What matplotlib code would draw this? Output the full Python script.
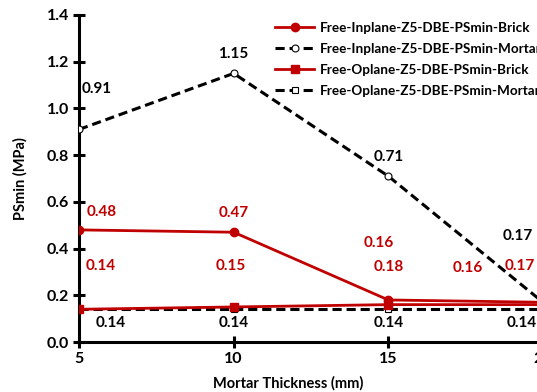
import matplotlib
matplotlib.use("Agg")
import matplotlib.pyplot as plt
from matplotlib.lines import Line2D

plt.rcParams['font.family'] = ['Lato', 'DejaVu Sans']
plt.rcParams['font.weight'] = 'bold'

thickness = [5, 10, 15, 20]
inplane_brick = [0.48, 0.47, 0.18, 0.17]
inplane_mortar = [0.91, 1.15, 0.71, 0.17]
oplane_brick = [0.14, 0.15, 0.16, 0.16]
oplane_mortar = [0.14, 0.14, 0.14, 0.14]

names = ["Free-Inplane-Z5-DBE-PSmin-Brick",
         "Free-Inplane-Z5-DBE-PSmin-Mortar",
         "Free-Oplane-Z5-DBE-PSmin-Brick",
         "Free-Oplane-Z5-DBE-PSmin-Mortar"]

RED = "#C00000"
W, H = 537, 392
fig = plt.figure(figsize=(W / 100, H / 100), dpi=100)
# plot area runs past the right edge of the canvas
x0, x1 = 79, 543
y0, y1 = 342, 15
ax = fig.add_axes([x0 / W, 1 - y0 / H, (x1 - x0) / W, (y0 - y1) / H])

ax.plot(thickness, inplane_mortar, color="black", ls=(0, (3, 1.6)), lw=2.2,
        marker="o", mfc="white", mec="black", ms=5, mew=0.8, label=names[1], zorder=3)
ax.plot(thickness, oplane_mortar, color="black", ls=(0, (3, 1.6)), lw=2.2,
        marker="s", mfc="white", mec="black", ms=5, mew=0.8, label=names[3], zorder=3)
ax.plot(thickness, inplane_brick, color=RED, lw=2.0,
        marker="o", mfc=RED, mec=RED, ms=6, label=names[0], zorder=4)
ax.plot(thickness, oplane_brick, color=RED, lw=2.0,
        marker="s", mfc=RED, mec=RED, ms=6, label=names[2], zorder=4)

ax.set_xlim(5, 20)
ax.set_ylim(0, 1.4)
ax.set_xticks([5, 10, 15, 20])
ax.set_yticks([0.0, 0.2, 0.4, 0.6, 0.8, 1.0, 1.2, 1.4])
ax.set_yticklabels([f"{v:.1f}" for v in ax.get_yticks()])
for s in ["top", "right"]:
    ax.spines[s].set_visible(False)
for s in ["left", "bottom"]:
    ax.spines[s].set_linewidth(2.2)
ax.tick_params(axis="both", direction="inout", length=8, width=2.2,
               labelsize=11.5, pad=3)
for t in ax.get_xticklabels() + ax.get_yticklabels():
    t.set_fontweight("bold")

ax.set_ylabel("PSmin (MPa)", fontsize=10.5, fontweight="bold", labelpad=14)
ax.set_xlabel("Mortar Thickness (mm)", fontsize=10.5, fontweight="bold")
ax.xaxis.set_label_coords((288 - x0) / (x1 - x0), -0.105)

# value labels, offsets in points from each point
px = 0.72
def label(xs, ys, offs, color):
    for xv, yv, (dx, dy) in zip(xs, ys, offs):
        ax.annotate(f"{yv:.2f}", (xv, yv), xytext=(dx * px, -dy * px),
                    textcoords="offset points", ha="center", va="center",
                    fontsize=11, fontweight="bold", color=color,
                    annotation_clip=False, zorder=5)

label(thickness, inplane_mortar, [(18, -40), (0, -19), (0, -19), (-25, -66)], "black")
label(thickness, inplane_brick, [(23, -18), (0, -19), (0, -33), (-23, -36)], RED)
label(thickness, oplane_brick, [(22, -43), (-3, -41), (-10, -62), (-75, -37)], RED)
label(thickness, oplane_mortar, [(32, 14), (0, 14), (0, 14), (-21, 14)], "black")

handles = [
    Line2D([], [], color=RED, lw=2.0, marker="o", mfc=RED, mec=RED, ms=6),
    Line2D([], [], color="black", ls=(0, (3, 1.6)), lw=2.2, marker="o",
           mfc="white", mec="black", ms=5, mew=0.8),
    Line2D([], [], color=RED, lw=2.0, marker="s", mfc=RED, mec=RED, ms=6),
    Line2D([], [], color="black", ls=(0, (3, 1.6)), lw=2.2, marker="s",
           mfc="white", mec="black", ms=5, mew=0.8),
]
fig.legend(handles, names, loc="upper left", bbox_to_anchor=(275 / W, 1 - 22 / H),
           frameon=False, prop={"weight": "bold", "size": 9.7},
           handlelength=2.9, handletextpad=0.45, labelspacing=0.67,
           borderaxespad=0, borderpad=0)

fig.savefig("out.png", dpi=100)
